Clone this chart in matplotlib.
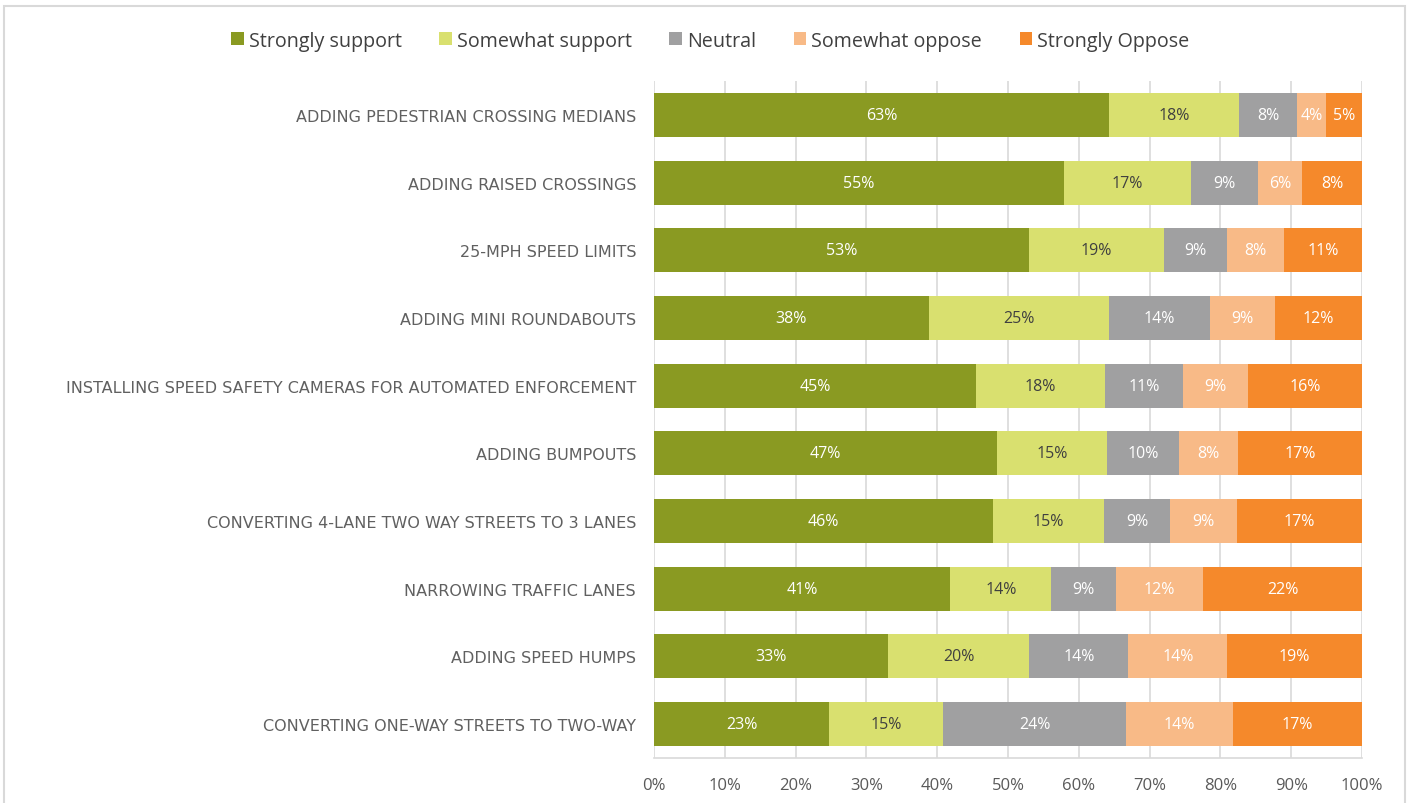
import numpy as np
import matplotlib.pyplot as plt
from matplotlib.patches import Rectangle

# survey answers per street-safety measure (percent as reported)
measures = [
    "ADDING PEDESTRIAN CROSSING MEDIANS",
    "ADDING RAISED CROSSINGS",
    "25-MPH SPEED LIMITS",
    "ADDING MINI ROUNDABOUTS",
    "INSTALLING SPEED SAFETY CAMERAS FOR AUTOMATED ENFORCEMENT",
    "ADDING BUMPOUTS",
    "CONVERTING 4-LANE TWO WAY STREETS TO 3 LANES",
    "NARROWING TRAFFIC LANES",
    "ADDING SPEED HUMPS",
    "CONVERTING ONE-WAY STREETS TO TWO-WAY",
]
strongly_support = [63, 55, 53, 38, 45, 47, 46, 41, 33, 23]
somewhat_support = [18, 17, 19, 25, 18, 15, 15, 14, 20, 15]
neutral = [8, 9, 9, 14, 11, 10, 9, 9, 14, 24]
somewhat_oppose = [4, 6, 8, 9, 9, 8, 9, 12, 14, 14]
strongly_oppose = [5, 8, 11, 12, 16, 17, 17, 22, 19, 17]

series = [
    ("Strongly support", strongly_support, "#8A9A22", "white"),
    ("Somewhat support", somewhat_support, "#D9E06F", "#404040"),
    ("Neutral", neutral, "#A0A0A1", "white"),
    ("Somewhat oppose", somewhat_oppose, "#F8BA87", "white"),
    ("Strongly Oppose", strongly_oppose, "#F5892B", "white"),
]

label_font = ["Open Sans", "DejaVu Sans"]

totals = np.sum([s[1] for s in series], axis=0)

fig = plt.figure(figsize=(14.09, 8.04), dpi=100)
ax = fig.add_axes([0.4642, 0.056, 0.5024, 0.842])

# chart frame
fig.patches.append(Rectangle((4 / 1409, -0.05), 1401 / 1409, 1 - 7 / 804 + 0.05,
                             transform=fig.transFigure, fill=False,
                             edgecolor="#D9D9D9", linewidth=1.5, zorder=0))

y = np.arange(len(measures))
left = np.zeros(len(measures))
for name, vals, color, txt in series:
    share = np.array(vals) / totals * 100
    ax.barh(y, share, left=left, height=0.65, color=color, label=name, zorder=2)
    for yi, l, w, v in zip(y, left, share, vals):
        ax.text(l + w / 2, yi, f"{v}%", ha="center", va="center", color=txt,
                fontsize=11.5, family=label_font, zorder=3)
    left += share

ax.set_xlim(0, 100)
ax.set_ylim(len(measures) - 0.5, -0.5)
ax.set_xticks(np.arange(0, 101, 10))
ax.set_xticklabels([f"{t}%" for t in range(0, 101, 10)], family=label_font,
                   fontsize=12, color="#595959")
ax.set_yticks(y)
ax.set_yticklabels(measures, family="DejaVu Sans", fontsize=11.5, color="#606060")
ax.tick_params(axis="both", length=0)
ax.tick_params(axis="x", pad=14)
ax.tick_params(axis="y", pad=13)
ax.grid(axis="x", color="#D9D9D9", linewidth=1.2, zorder=0)
ax.set_axisbelow(True)
for side in ["top", "right", "left"]:
    ax.spines[side].set_visible(False)
ax.spines["bottom"].set_color("#D9D9D9")
ax.spines["bottom"].set_linewidth(1.2)

fig.legend(loc="center", bbox_to_anchor=(0.504, 0.948), ncol=5, frameon=False,
           prop={"family": label_font, "size": 14.2}, labelcolor="#404040",
           handlelength=0.65, handleheight=0.65, handletextpad=0.25,
           columnspacing=1.9)

fig.savefig("out.png", dpi=100)
